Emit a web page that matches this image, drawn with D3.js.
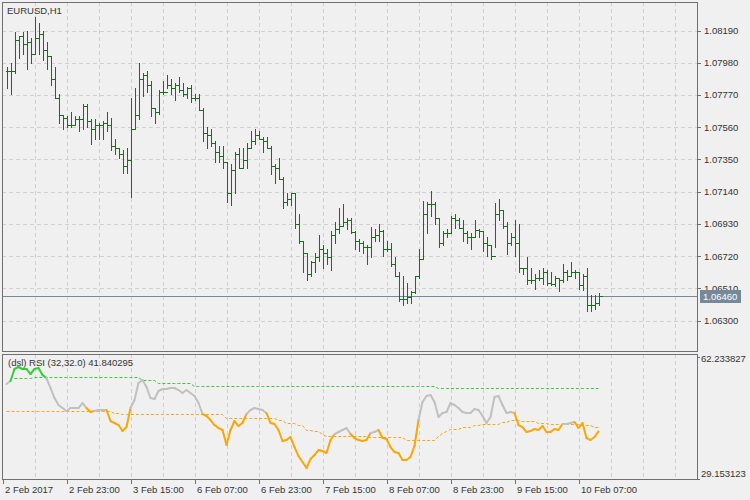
<!DOCTYPE html>
<html>
<head>
<meta charset="utf-8">
<script src="https://cdn.jsdelivr.net/npm/d3@7"></script>
<style>
  body { margin: 0; background: #f0f0f0; }
  svg text { font-family: "Liberation Sans", sans-serif; font-size: 9.5px; fill: #333; }
</style>
</head>
<body>
<svg id="chart" width="750" height="500"></svg>
<script>
// EURUSD H1 bars (open = previous close)
const highs = [1.07949,1.07981,1.08183,1.08151,1.08183,1.08190,1.08144,1.08281,1.08236,1.08190,
1.08118,1.08027,1.07949,1.07773,1.07642,1.07636,1.07662,1.07636,1.07636,1.07708,
1.07708,1.07610,1.07610,1.07584,1.07597,1.07656,1.07623,1.07486,1.07427,1.07408,
1.07427,1.07747,1.07818,1.07975,1.07916,1.07929,1.07858,1.07688,1.07805,1.07864,
1.07903,1.07877,1.07845,1.07884,1.07845,1.07825,1.07832,1.07779,1.07779,1.07682,
1.07558,1.07551,1.07473,1.07440,1.07434,1.07336,1.07317,1.07401,1.07427,1.07427,
1.07460,1.07532,1.07551,1.07538,1.07493,1.07493,1.07440,1.07323,1.07356,1.07232,
1.07134,1.07134,1.07128,1.06997,1.06815,1.06743,1.06691,1.06743,1.06860,1.06789,
1.06769,1.06886,1.06939,1.07036,1.07062,1.06965,1.06971,1.06886,1.06834,1.06821,
1.06789,1.06912,1.06899,1.06932,1.06893,1.06815,1.06802,1.06717,1.06619,1.06593,
1.06547,1.06495,1.06587,1.06769,1.07082,1.07075,1.07141,1.07075,1.06965,1.06886,
1.06899,1.06984,1.06997,1.06965,1.06958,1.06886,1.06873,1.06952,1.06899,1.06886,
1.06841,1.06789,1.07069,1.07095,1.07017,1.06939,1.06873,1.06958,1.06932,1.06645,
1.06717,1.06645,1.06600,1.06632,1.06645,1.06626,1.06613,1.06587,1.06580,1.06671,
1.06632,1.06678,1.06632,1.06613,1.06600,1.06639,1.06463,1.06463,1.06476];

const lows = [1.07818,1.07773,1.07910,1.08014,1.08040,1.07936,1.07975,1.08040,1.08040,1.08001,
1.07942,1.07832,1.07753,1.07584,1.07551,1.07558,1.07558,1.07571,1.07538,1.07545,
1.07558,1.07453,1.07486,1.07486,1.07486,1.07538,1.07408,1.07388,1.07362,1.07264,
1.07264,1.07108,1.07551,1.07616,1.07766,1.07786,1.07636,1.07584,1.07649,1.07773,
1.07818,1.07779,1.07740,1.07786,1.07760,1.07753,1.07727,1.07734,1.07675,1.07473,
1.07427,1.07434,1.07330,1.07330,1.07297,1.07075,1.07056,1.07128,1.07291,1.07291,
1.07291,1.07421,1.07453,1.07486,1.07395,1.07421,1.07258,1.07199,1.07225,1.07036,
1.07056,1.07056,1.06906,1.06808,1.06613,1.06561,1.06593,1.06613,1.06691,1.06645,
1.06671,1.06626,1.06802,1.06867,1.06919,1.06899,1.06873,1.06769,1.06750,1.06743,
1.06671,1.06717,1.06815,1.06815,1.06723,1.06750,1.06658,1.06587,1.06424,1.06404,
1.06417,1.06411,1.06476,1.06580,1.06704,1.06867,1.06978,1.06932,1.06782,1.06789,
1.06841,1.06867,1.06906,1.06906,1.06821,1.06802,1.06769,1.06841,1.06841,1.06756,
1.06723,1.06704,1.06782,1.06952,1.06906,1.06736,1.06789,1.06723,1.06613,1.06606,
1.06541,1.06547,1.06508,1.06561,1.06541,1.06534,1.06534,1.06528,1.06495,1.06554,
1.06567,1.06587,1.06580,1.06508,1.06502,1.06365,1.06365,1.06378,1.06404];

const closes = [1.07923,1.07923,1.08131,1.08151,1.08099,1.08112,1.08040,1.08138,1.08170,1.08060,
1.08021,1.07877,1.07753,1.07642,1.07623,1.07571,1.07571,1.07610,1.07610,1.07695,
1.07603,1.07551,1.07571,1.07571,1.07584,1.07577,1.07440,1.07421,1.07388,1.07304,
1.07343,1.07551,1.07642,1.07877,1.07903,1.07832,1.07682,1.07656,1.07792,1.07792,
1.07832,1.07818,1.07838,1.07799,1.07773,1.07818,1.07747,1.07747,1.07675,1.07519,
1.07506,1.07460,1.07401,1.07369,1.07330,1.07128,1.07284,1.07388,1.07297,1.07343,
1.07427,1.07473,1.07506,1.07486,1.07473,1.07427,1.07304,1.07297,1.07225,1.07075,
1.07095,1.07128,1.06932,1.06815,1.06743,1.06600,1.06678,1.06717,1.06769,1.06743,
1.06717,1.06854,1.06899,1.06919,1.06945,1.06958,1.06880,1.06815,1.06802,1.06782,
1.06776,1.06847,1.06854,1.06886,1.06769,1.06769,1.06665,1.06587,1.06443,1.06443,
1.06450,1.06489,1.06587,1.06704,1.06997,1.07062,1.07062,1.06965,1.06808,1.06867,
1.06873,1.06971,1.06952,1.06906,1.06873,1.06847,1.06847,1.06893,1.06886,1.06808,
1.06789,1.06723,1.06991,1.07017,1.06919,1.06802,1.06841,1.06808,1.06645,1.06639,
1.06567,1.06567,1.06580,1.06580,1.06619,1.06547,1.06541,1.06574,1.06561,1.06613,
1.06593,1.06619,1.06619,1.06534,1.06593,1.06398,1.06398,1.06411,1.06460];

// (dsl) RSI and its two floating levels
const rsi = [54.49,55.29,58.50,59.03,58.50,58.50,57.16,58.50,58.76,56.89,
56.09,53.43,50.76,48.89,48.09,47.29,48.09,48.09,48.09,49.42,
48.09,47.02,47.29,47.56,47.56,47.56,44.62,44.09,43.55,41.95,
43.02,48.09,50.22,54.76,55.56,53.69,50.76,50.49,52.63,53.16,
53.16,53.43,53.43,52.89,52.09,52.89,52.09,51.29,49.42,46.49,
45.96,44.89,43.55,42.75,42.22,38.22,42.22,44.62,43.29,44.09,
46.49,47.56,48.09,47.82,47.56,46.76,44.09,43.82,42.22,39.29,
39.55,40.35,37.68,35.28,33.68,32.08,34.48,35.55,36.88,36.62,
36.08,39.55,41.15,41.69,42.22,42.75,41.15,40.09,39.55,39.29,
39.55,41.42,41.69,42.22,40.09,39.82,37.68,36.35,36.08,34.22,
34.22,35.02,37.95,44.89,49.69,51.29,51.56,49.69,45.69,46.76,
47.02,49.42,48.89,48.09,47.02,46.76,46.76,47.82,47.56,45.96,
44.09,45.69,51.02,51.29,48.89,46.76,47.02,46.76,43.55,43.02,
41.69,41.95,42.49,42.22,43.29,41.69,41.69,42.49,42.22,43.82,
43.82,44.09,44.36,42.75,44.09,40.09,39.55,40.35,41.84];

const upperLevel = [null,null,56.09,56.09,56.09,56.09,56.09,56.36,56.36,56.36,
56.36,56.36,56.36,56.36,56.36,56.36,56.36,56.36,56.36,56.36,
56.36,56.36,56.36,56.36,56.36,56.36,56.36,56.36,56.36,56.36,
56.36,56.36,56.36,56.36,55.56,55.56,55.56,55.56,54.76,54.76,
54.76,54.76,54.76,54.76,54.76,54.76,54.76,53.96,53.96,53.96,
53.96,53.96,53.96,53.96,53.96,53.96,53.96,53.96,53.96,53.96,
53.96,53.96,53.96,53.96,53.96,53.96,53.96,53.96,53.96,53.96,
53.96,53.96,53.96,53.96,53.96,53.96,53.96,53.96,53.96,53.96,
53.96,53.96,53.96,53.96,53.96,53.96,53.96,53.96,53.96,53.96,
53.96,53.96,53.96,53.96,53.96,53.96,53.96,53.96,53.96,53.96,
53.96,53.96,53.96,53.96,53.96,53.96,53.96,53.96,53.43,53.43,
53.43,53.43,53.43,53.43,53.43,53.43,53.43,53.43,53.43,53.43,
53.43,53.43,53.43,53.43,53.43,53.43,53.43,53.43,53.43,53.43,
53.43,53.43,53.43,53.43,53.43,53.43,53.43,53.43,53.43,53.43,
53.43,53.43,53.43,53.43,53.43,53.43,53.43,53.43,53.43];

const lowerLevel = [47.29,47.29,47.29,47.29,47.29,47.29,47.29,47.29,47.29,47.29,
47.29,47.29,47.29,47.29,47.29,47.29,47.29,47.29,47.29,47.29,
47.29,47.29,47.29,47.29,47.29,47.29,47.29,46.76,46.76,46.49,
46.49,46.49,46.49,46.49,46.49,46.49,46.49,46.49,46.49,46.49,
46.49,46.49,46.49,46.49,46.49,46.49,46.49,46.49,46.49,46.49,
46.49,46.49,46.49,46.49,46.49,45.42,45.42,45.42,45.42,45.42,
45.42,45.42,45.42,45.42,45.42,45.42,45.42,45.42,44.89,44.89,
44.09,44.09,44.09,43.55,43.55,42.22,42.22,41.95,41.95,41.15,
40.62,40.62,40.62,40.62,40.62,40.62,40.62,40.62,40.62,40.62,
40.62,40.35,40.35,40.35,40.35,40.35,40.35,40.35,40.35,40.35,
39.55,39.55,39.55,39.55,39.55,39.55,39.55,39.55,40.60,41.42,
41.95,42.49,42.49,42.49,43.02,43.02,43.02,43.55,43.55,43.82,
43.82,43.82,43.82,43.82,44.36,44.36,44.89,44.89,44.89,44.62,
44.62,44.62,44.62,44.09,44.09,44.09,43.82,43.82,43.82,43.82,
43.82,43.82,43.82,43.82,43.55,43.55,43.55,43.02,43.02];

const priceTicks = [1.0819, 1.0798, 1.0777, 1.0756, 1.0735, 1.0714, 1.0693, 1.0672, 1.0651, 1.0630];
const lastPrice = 1.0646;
const rsiRange = [29.153123, 62.233827];
const rsiTitle = "(dsl) RSI (32,32.0) 41.840295";
const timeLabels = ["2 Feb 2017", "2 Feb 23:00", "3 Feb 15:00", "6 Feb 07:00", "6 Feb 23:00",
  "7 Feb 15:00", "8 Feb 07:00", "8 Feb 23:00", "9 Feb 15:00", "10 Feb 07:00"];
const timeLabelBars = [-1, 15, 31, 47, 63, 79, 95, 111, 127, 143];

const bars = closes.map((c, i) => ({
  i, open: i ? closes[i - 1] : c, high: highs[i], low: lows[i], close: c
}));

const svg = d3.select("#chart");
const left = 2, right = 697;
const main = { top: 2, bottom: 351 };
const sub = { top: 354, bottom: 479 };

// bar index -> x (4px per hour)
const x = d3.scaleLinear().domain([0, 1]).range([6.5, 10.5]);
const y = d3.scaleLinear().domain([1.0630, 1.0819]).range([320.5, 30.5]);
const yr = d3.scaleLinear().domain(rsiRange).range([sub.bottom, sub.top + 1]);

const gridColor = "#d0d0d0";

// vertical grid in both panels
const vGrid = d3.range(7, 175, 8).filter((i) => x(i) < right);
[main, sub].forEach((p) => {
  svg.append("g").selectAll("line").data(vGrid).join("line")
    .attr("x1", (d) => Math.round(x(d)) + 0.5).attr("x2", (d) => Math.round(x(d)) + 0.5)
    .attr("y1", p.top).attr("y2", p.bottom)
    .attr("stroke", gridColor).attr("stroke-dasharray", "4,3");
});

// horizontal price grid
svg.append("g").selectAll("line").data(priceTicks).join("line")
  .attr("x1", left).attr("x2", right)
  .attr("y1", (d) => Math.round(y(d)) + 0.5).attr("y2", (d) => Math.round(y(d)) + 0.5)
  .attr("stroke", gridColor).attr("stroke-dasharray", "4,3");

// last price line
svg.append("line")
  .attr("x1", left).attr("x2", right)
  .attr("y1", Math.round(y(lastPrice)) + 0.5).attr("y2", Math.round(y(lastPrice)) + 0.5)
  .attr("stroke", "#778899");

// OHLC bars
const barG = svg.append("g").attr("stroke", "#008000").attr("stroke-width", 1)
  .attr("shape-rendering", "crispEdges");
bars.forEach((d) => {
  const cx = Math.round(x(d.i)) + 0.5;
  barG.append("line").attr("x1", cx).attr("x2", cx)
    .attr("y1", Math.round(y(d.high))).attr("y2", Math.round(y(d.low)) + 1);
  barG.append("line").attr("x1", cx - 2).attr("x2", cx)
    .attr("y1", Math.round(y(d.open)) + 0.5).attr("y2", Math.round(y(d.open)) + 0.5);
  barG.append("line").attr("x1", cx).attr("x2", cx + 3)
    .attr("y1", Math.round(y(d.close)) + 0.5).attr("y2", Math.round(y(d.close)) + 0.5);
});

// RSI levels
const levelLine = d3.line().defined((d) => d != null)
  .x((d, i) => x(i)).y((d) => Math.round(yr(d)) + 0.5);
svg.append("path").attr("d", levelLine(upperLevel))
  .attr("fill", "none").attr("stroke", "#32cd32").attr("stroke-dasharray", "3,2");
svg.append("path").attr("d", levelLine(lowerLevel))
  .attr("fill", "none").attr("stroke", "#ffa500").attr("stroke-dasharray", "3,2");

// RSI line, coloured by zone
const zone = (i) => (upperLevel[i] != null && rsi[i] > upperLevel[i]) ? "up"
  : rsi[i] < lowerLevel[i] ? "dn" : "mid";
const zoneColor = { up: "#32cd32", dn: "#ffa500", mid: "#c0c0c0" };
const rsiG = svg.append("g").attr("stroke-width", 2).attr("stroke-linecap", "round");
d3.range(rsi.length - 1).forEach((i) => {
  const z = zone(i + 1) !== "mid" ? zone(i + 1) : zone(i);
  rsiG.append("line")
    .attr("x1", x(i)).attr("y1", yr(rsi[i]))
    .attr("x2", x(i + 1)).attr("y2", yr(rsi[i + 1]))
    .attr("stroke", zoneColor[z]);
});

// panel frames
[main, sub].forEach((p) => {
  svg.append("rect").attr("x", left + 0.5).attr("y", p.top + 0.5)
    .attr("width", right - left).attr("height", p.bottom - p.top)
    .attr("fill", "none").attr("stroke", "#707070");
});

// price axis
const pa = svg.append("g");
pa.selectAll("line").data(priceTicks).join("line")
  .attr("x1", right).attr("x2", right + 4)
  .attr("y1", (d) => Math.round(y(d)) + 0.5).attr("y2", (d) => Math.round(y(d)) + 0.5)
  .attr("stroke", "#707070");
pa.selectAll("text").data(priceTicks.filter((d) => Math.abs(y(d) - y(lastPrice)) > 10)).join("text")
  .attr("x", right + 7).attr("y", (d) => y(d) + 3.5)
  .text((d) => d.toFixed(5));

// last price tag (covers the lower half of the nearest tick label, as in the terminal)
svg.append("text").attr("x", right + 7).attr("y", y(1.0651) + 3.5).text((1.0651).toFixed(5));
svg.append("rect").attr("x", right + 3).attr("y", Math.round(y(lastPrice)) - 6)
  .attr("width", 41).attr("height", 13).attr("fill", "#778899");
svg.append("text").attr("x", right + 6).attr("y", y(lastPrice) + 4)
  .style("fill", "#fff").text(lastPrice.toFixed(5));

// RSI scale labels
svg.append("text").attr("x", right + 4).attr("y", sub.top + 8).text(rsiRange[1].toFixed(6));
svg.append("text").attr("x", right + 4).attr("y", sub.bottom - 2).text(rsiRange[0].toFixed(6));
[sub.top + 3, sub.bottom].forEach((yy) => {
  svg.append("line").attr("x1", right).attr("x2", right + 3)
    .attr("y1", yy + 0.5).attr("y2", yy + 0.5).attr("stroke", "#707070");
});

// time axis
const ta = svg.append("g");
ta.selectAll("line").data(timeLabelBars).join("line")
  .attr("x1", (d) => Math.round(x(d)) + 0.5).attr("x2", (d) => Math.round(x(d)) + 0.5)
  .attr("y1", sub.bottom).attr("y2", sub.bottom + 5)
  .attr("stroke", "#707070");
ta.selectAll("text").data(timeLabelBars).join("text")
  .attr("x", (d) => Math.round(x(d)) + 2).attr("y", 493)
  .text((d, i) => timeLabels[i]);

// titles
svg.append("text").attr("x", 7).attr("y", 14).text("EURUSD,H1");
svg.append("text").attr("x", 8).attr("y", 366).text(rsiTitle);
</script>
</body>
</html>
